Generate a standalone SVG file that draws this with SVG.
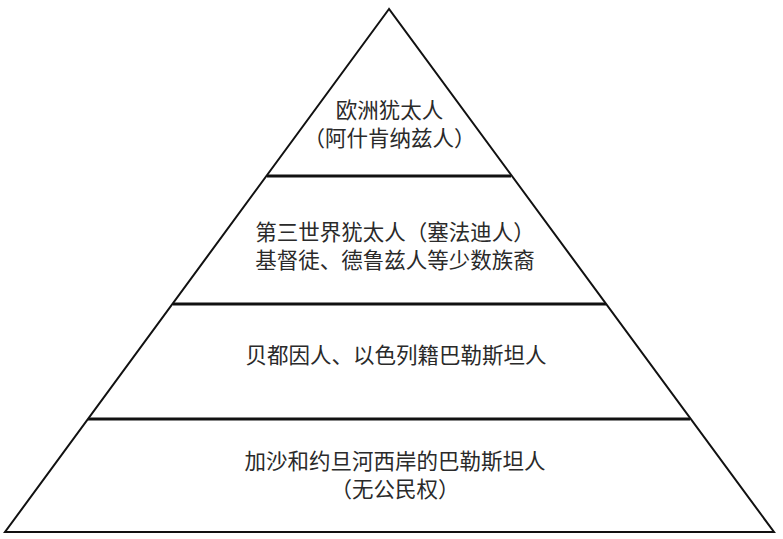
<svg xmlns="http://www.w3.org/2000/svg" width="783" height="539" viewBox="0 0 783 539">
<style>
.t{font-family:"Noto Sans CJK SC","Noto Sans",sans-serif;font-size:21.5px;fill:#2a2a2a;text-anchor:middle}
.edge{fill:none;stroke:#111;stroke-width:2;stroke-linejoin:miter}
.div{stroke:#111;stroke-width:3}
</style>
<rect width="783" height="539" fill="#fff"/>
<g id="pyramid">
<polygon class="edge" points="389,9 5,532 774,532"/>
</g>
<g id="connectors">
<line class="div" x1="267" y1="176" x2="511" y2="176"/>
<line class="div" x1="173" y1="304" x2="606" y2="304"/>
<line class="div" x1="88" y1="419" x2="690" y2="419"/>
</g>
<g id="level1">
<text class="t" x="389.5" y="118">欧洲犹太人</text>
<text class="t" x="389.5" y="146">（阿什肯纳兹人）</text>
</g>
<g id="level2">
<text class="t" x="395" y="240">第三世界犹太人（塞法迪人）</text>
<text class="t" x="395" y="268">基督徒、德鲁兹人等少数族裔</text>
</g>
<g id="level3">
<text class="t" x="396" y="363">贝都因人、以色列籍巴勒斯坦人</text>
</g>
<g id="level4">
<text class="t" x="395" y="469">加沙和约旦河西岸的巴勒斯坦人</text>
<text class="t" x="395" y="497">（无公民权）</text>
</g>
</svg>
